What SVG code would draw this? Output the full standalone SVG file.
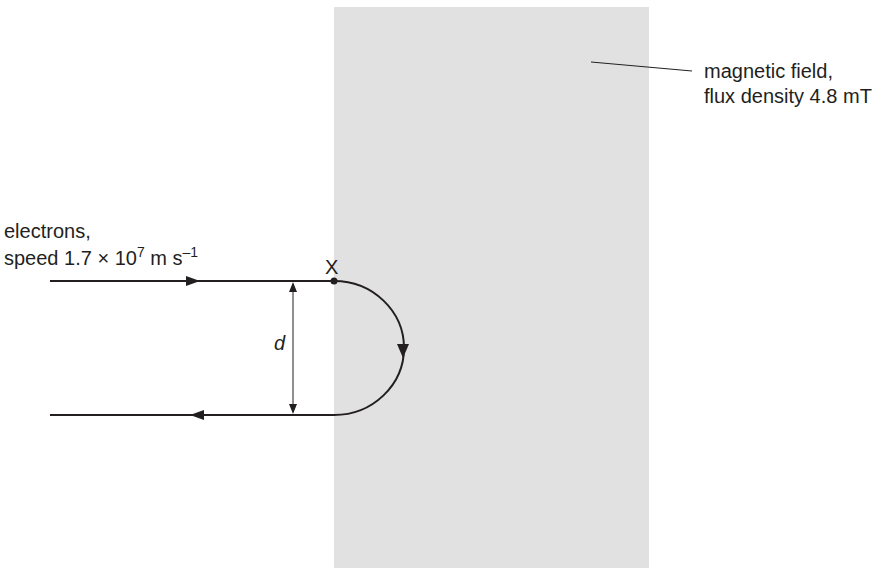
<svg xmlns="http://www.w3.org/2000/svg" width="882" height="573" viewBox="0 0 882 573">
<style>
text{font-family:"Liberation Sans",Arial,sans-serif;font-size:20px;fill:#231f20}
.l{stroke:#231f20;stroke-width:2;fill:none}
.t{stroke:#231f20;stroke-width:1;fill:none}
</style>
<g id="field"><rect x="334" y="7" width="315" height="561" fill="#e1e1e1"/>
<text x="704" y="78">magnetic field,</text><text x="704" y="103">flux density 4.8 mT</text></g>
<g id="labels"><text x="4" y="238" font-size="21">electrons,</text>
<text x="4" y="265" font-size="21">speed 1.7 × 10<tspan dy="-8" font-size="14">7</tspan><tspan dy="8"> m s</tspan><tspan dy="-8" font-size="14">–1</tspan></text>
<text x="325" y="274">X</text>
<text x="274" y="350" font-style="italic">d</text></g>
<g id="connectors">
<line class="t" x1="591" y1="62" x2="692" y2="71"/>
<path class="l" d="M50,281H334"/>
<path d="M186,276L200,281L186,286Z" fill="#231f20"/>
<path class="l" d="M334,281A70,67 0 0 1 334,415"/>
<path d="M397,344L403,358L409,344Z" fill="#231f20"/>
<path class="l" d="M334,415H50"/>
<path d="M204,410L190,415L204,420Z" fill="#231f20"/>
<line class="t" x1="293" y1="290" x2="293" y2="406"/>
<path d="M289,292L293,282L297,292Z" fill="#231f20"/>
<path d="M289,404L293,414L297,404Z" fill="#231f20"/>
<circle cx="334" cy="281" r="3.5" fill="#231f20"/>
</g>
</svg>
